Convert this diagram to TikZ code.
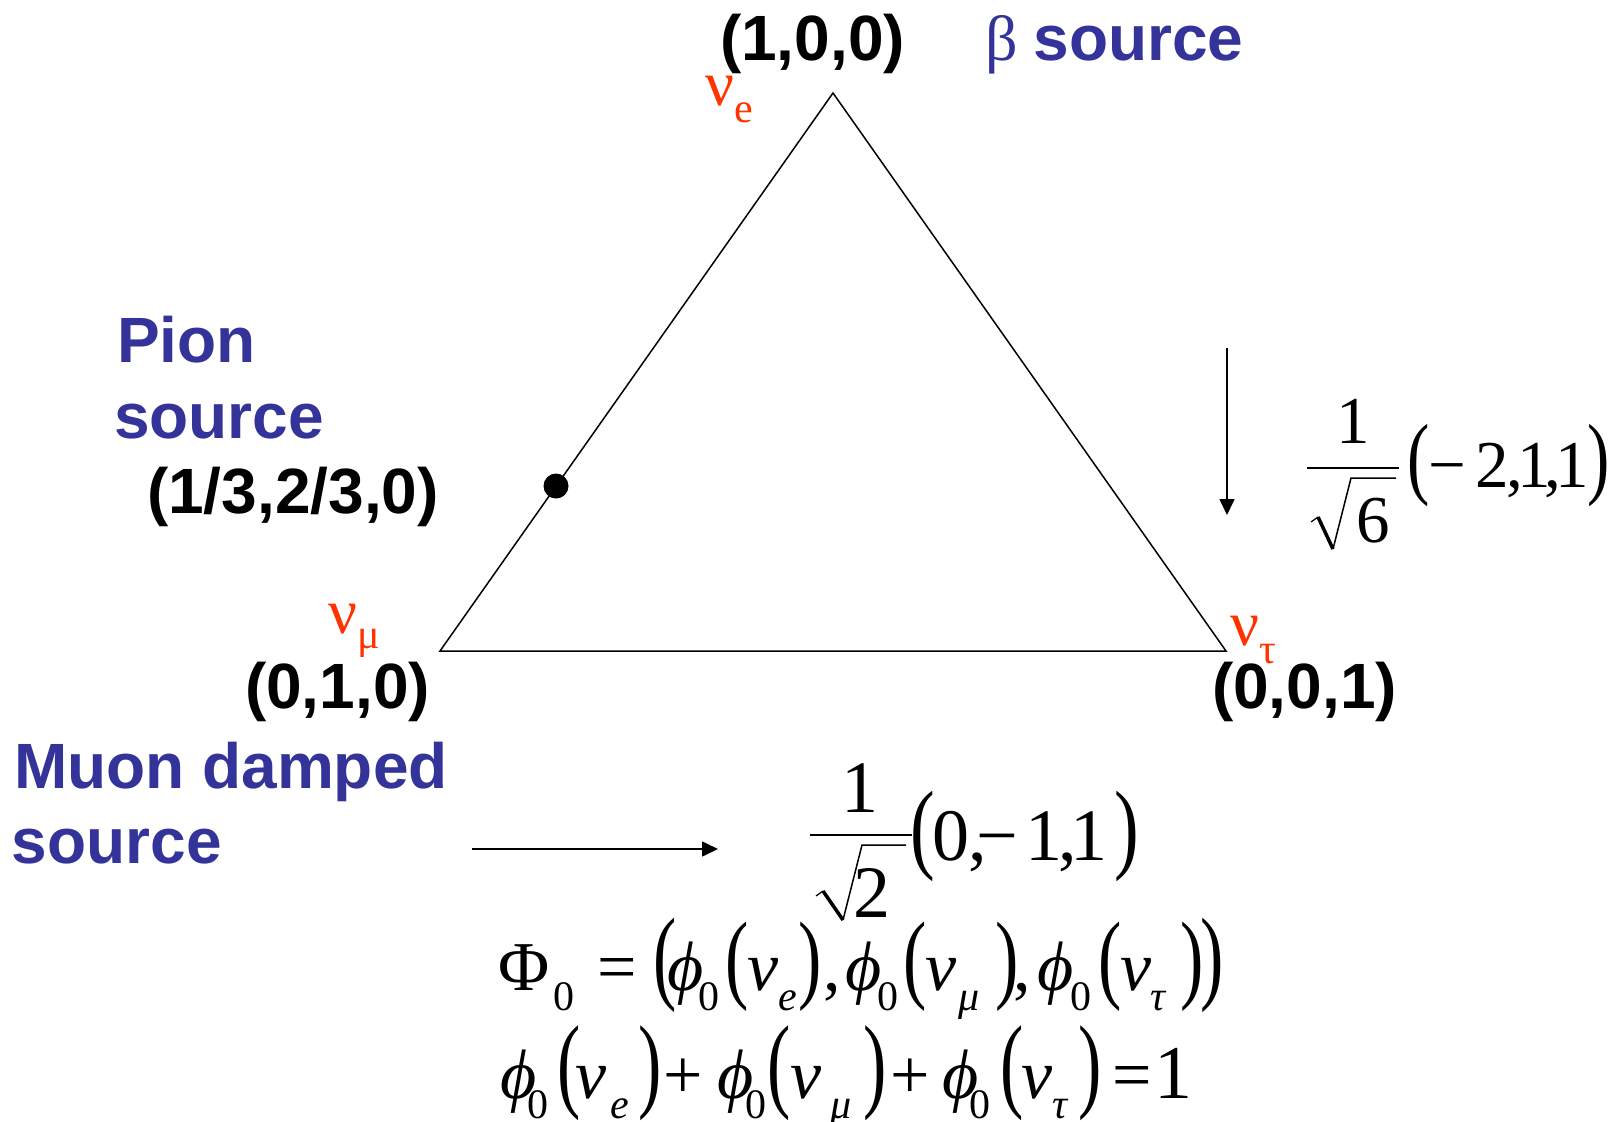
\documentclass[tikz,border=0pt]{standalone}
\usepackage{fontspec}
\usepackage{graphicx}
\setmainfont{Liberation Serif}
\newfontfamily\lsans{Liberation Sans}
\usetikzlibrary{arrows.meta}
\definecolor{srcblue}{HTML}{333399}
\definecolor{nured}{HTML}{FF3300}
% place #2 at horizontal offset #1 (pt) from the node origin
\newcommand{\pc}[2]{\makebox[0pt][l]{\kern#1pt\relax#2}}
% lowered subscript
\newcommand{\sbz}[2]{\raisebox{-#1pt}{\fontsize{42}{42}\selectfont #2}}
% stretched parenthesis
\newcommand{\bigP}[2]{\scalebox{1}[#1]{#2}}
\newcommand{\myph}{\textit{ϕ}}
\newcommand{\mynu}{\textit{ν}}
\tikzset{
  lbl/.style={inner sep=0pt, outer sep=0pt, anchor=base west,
    font=\lsans\bfseries\fontsize{64}{76}\selectfont},
  coordlbl/.style={lbl, text=black},
  srclbl/.style={lbl, text=srcblue},
  nulbl/.style={inner sep=0pt, anchor=base west, text=nured,
    font=\fontsize{64}{64}\selectfont},
  eqm/.style={inner sep=0pt, anchor=base west, font=\fontsize{70}{70}\selectfont},
  eqn/.style={inner sep=0pt, anchor=base west, font=\fontsize{74}{74}\selectfont},
  eqs/.style={inner sep=0pt, anchor=base west, font=\fontsize{67}{67}\selectfont},
  edge/.style={line width=1.5pt},
  arr/.style={line width=1.6pt, -{Triangle[length=16pt,width=15pt]}},
}
\begin{document}
\begin{tikzpicture}[x=1pt,y=-1pt]
\useasboundingbox (0,0) rectangle (1615,1122);

% triangle
\coordinate (tE) at (833,93);
\coordinate (tM) at (440,651);
\coordinate (tT) at (1226,651);
\draw[edge, line join=miter] (tE) -- (tM) -- (tT) -- cycle;
\node[circle, fill=black, inner sep=0pt, minimum size=25pt] (pion) at (556,486) {};

% vertex labels
\node[coordlbl] (c100) at (720,60) {(1,0,0)};
\node[coordlbl] (c010) at (245,708) {(0,1,0)};
\node[coordlbl] (c001) at (1212,708) {(0,0,1)};
\node[coordlbl] (c120) at (147,513) {(1/3,2/3,0)};

% neutrino labels
\node[nulbl] (nue) at (705,105) {ν\sbz{17}{e}};
\node[nulbl] (numu) at (328,633) {ν\sbz{15}{μ}};
\node[nulbl] (nutau) at (1230,645) {ν\sbz{18}{τ}};

% source labels
\node[srclbl] (beta) at (985,60) {{\rmfamily\mdseries β}\kern 16pt source};
\node[srclbl] (pion1) at (117,362) {Pion};
\node[srclbl] (pion2) at (114,438) {source};
\node[srclbl] (muon1) at (14,788) {Muon damped};
\node[srclbl] (muon2) at (12,863) {source};

% arrows
\coordinate (vA) at (1227,348);
\coordinate (vB) at (1227,515);
\draw[arr] (vA) -- (vB);
\coordinate (hA) at (472,849);
\coordinate (hB) at (718,849);
\draw[arr] (hA) -- (hB);

% fraction 1/sqrt6 (-2,1,1)
\node[eqs, anchor=base] (f6n) at (1353,443) {1};
\coordinate (f6a) at (1307,468);
\coordinate (f6b) at (1399,468);
\draw[line width=2pt] (f6a) -- (f6b);
\coordinate (r6a) at (1311,522);
\coordinate (r6b) at (1318,517);
\coordinate (r6c) at (1333,549);
\coordinate (r6d) at (1351,478);
\coordinate (r6e) at (1396,478);
\draw[line width=1.2pt] (r6a) -- (r6b);
\draw[line width=3.5pt] (r6b) -- (r6c);
\draw[line width=1.5pt, line join=miter] (r6c) -- (r6d) -- (r6e);
\node[eqs] (f6d) at (1356,542) {6};
\node[eqs] (v6) at (1407,487) {%
\pc{0}{\bigP{1.36}{(}}\pc{21}{−}\pc{68}{2}\pc{99}{,}\pc{110}{1}\pc{137}{,}\pc{148}{1}\pc{180}{\bigP{1.36}{)}}};

% fraction 1/sqrt2 (0,-1,1)
\node[eqn, anchor=base] (f2n) at (860,812) {1};
\coordinate (f2a) at (810,835);
\coordinate (f2b) at (912,835);
\draw[line width=2pt] (f2a) -- (f2b);
\coordinate (r2a) at (816,896);
\coordinate (r2b) at (823,891);
\coordinate (r2c) at (843,920);
\coordinate (r2d) at (862,845);
\coordinate (r2e) at (906,845);
\draw[line width=1.2pt] (r2a) -- (r2b);
\draw[line width=3.5pt] (r2b) -- (r2c);
\draw[line width=1.5pt, line join=miter] (r2c) -- (r2d) -- (r2e);
\node[eqn] (f2d) at (853,917) {2};
\node[eqn] (v2) at (910,860) {%
\pc{0}{\bigP{1.35}{(}}\pc{22}{0}\pc{58}{,}\pc{66}{−}\pc{115}{1}\pc{148}{,}\pc{160}{1}\pc{204}{\bigP{1.35}{)}}};

% equation row 1
\node[eqm] (eq1) at (498,990) {%
\pc{0}{Φ}\pc{55}{\sbz{20}{0}}\pc{99}{=}\pc{155}{\bigP{1.49}{(}}%
\pc{169}{\myph}\pc{200}{\sbz{20}{0}}\pc{227}{\bigP{1.41}{(}}\pc{249}{\mynu}\pc{280}{\sbz{20}{\itshape e}}\pc{300}{\bigP{1.41}{)}}\pc{325}{,}%
\pc{347}{\myph}\pc{379}{\sbz{20}{0}}\pc{405}{\bigP{1.41}{(}}\pc{427}{\mynu}\pc{460}{\sbz{20}{\itshape μ}}\pc{497}{\bigP{1.41}{)}}\pc{515}{,}%
\pc{539}{\myph}\pc{572}{\sbz{20}{0}}\pc{600}{\bigP{1.41}{(}}\pc{622}{\mynu}\pc{652}{\sbz{20}{\itshape τ}}\pc{682}{\bigP{1.41}{)}}\pc{702}{\bigP{1.49}{)}}};

% equation row 2
\node[eqm] (eq2) at (498,1098) {%
\pc{2}{\myph}\pc{29}{\sbz{20}{0}}\pc{59}{\bigP{1.5}{(}}\pc{77}{\mynu}\pc{112}{\sbz{20}{\itshape e}}\pc{140}{\bigP{1.5}{)}}\pc{165}{+}%
\pc{219}{\myph}\pc{247}{\sbz{20}{0}}\pc{269}{\bigP{1.5}{(}}\pc{292}{\mynu}\pc{332}{\sbz{20}{\itshape μ}}\pc{365}{\bigP{1.5}{)}}\pc{392}{+}%
\pc{444}{\myph}\pc{471}{\sbz{20}{0}}\pc{502}{\bigP{1.5}{(}}\pc{523}{\mynu}\pc{554}{\sbz{20}{\itshape τ}}\pc{580}{\bigP{1.5}{)}}\pc{614}{=}\pc{656}{\fontsize{76}{76}\selectfont 1}};
\end{tikzpicture}
\end{document}
